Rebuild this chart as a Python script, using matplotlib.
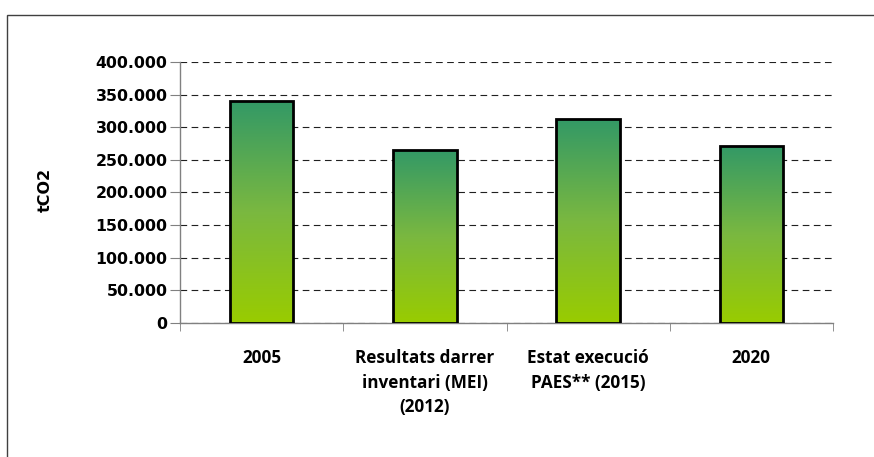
import numpy as np
import matplotlib
matplotlib.use("Agg")
import matplotlib.pyplot as plt
from matplotlib.colors import LinearSegmentedColormap
from matplotlib.patches import Rectangle
from matplotlib.ticker import FuncFormatter

categories = ["2005", "Resultats darrer\ninventari (MEI)\n(2012)",
              "Estat execució\nPAES** (2015)", "2020"]
values = [340000, 265000, 312000, 271000]
yticks = [0, 50000, 100000, 150000, 200000, 250000, 300000, 350000, 400000]
ylabel = "tCO2"

plt.rcParams['font.family'] = ['DejaVu Sans']
plt.rcParams['font.weight'] = 'bold'

fig = plt.figure(figsize=(8.74, 4.57), dpi=100)
# outer frame
fig.patches.append(Rectangle((7/874, -0.1), 1.2, 1 - 15/457 + 0.1,
                             transform=fig.transFigure, fill=False,
                             edgecolor='#404040', linewidth=1.0))
ax = fig.add_axes([180/874, 1 - 323/457, (833-180)/874, (323-62)/457])

x = np.arange(len(categories))
bars = ax.bar(x, values, width=0.39, color='none', edgecolor='black',
              linewidth=2.0, zorder=3)
cmap = LinearSegmentedColormap.from_list('g', ['#99CC00', '#7AB840', '#339966'])
grad = np.linspace(0, 1, 256).reshape(-1, 1)
for b in bars:
    x0, y0 = b.get_x(), b.get_y()
    w, h = b.get_width(), b.get_height()
    im = ax.imshow(grad, cmap=cmap, origin='lower', aspect='auto',
                   extent=[x0, x0 + w, y0, y0 + h], zorder=2)
    im.set_clip_path(b)

ax.set_xlim(-0.5, len(categories) - 0.5)
ax.set_ylim(0, 400000)
ax.set_yticks(yticks)
ax.yaxis.set_major_formatter(FuncFormatter(lambda v, p: f"{int(v):,}".replace(",", ".")))
ax.set_xticks(x)
ax.set_xticklabels(categories, fontsize=12.3, fontweight='bold', linespacing=1.46,
                   va='top', family=['Open Sans', 'DejaVu Sans'])
ax.set_xticks(np.arange(-0.5, len(categories)), minor=True)
ax.tick_params(axis='x', which='major', length=0, pad=19)
ax.tick_params(axis='x', which='minor', length=6, color='#808080', direction='out')
ax.tick_params(axis='y', length=7, color='#808080', labelsize=11.3, pad=2)
for lab in ax.get_yticklabels():
    lab.set_fontweight('bold')

ax.yaxis.grid(True, linestyle=(0, (6, 4)), color='#202020', linewidth=0.8, zorder=1)
ax.set_axisbelow(True)
for s in ['top', 'right']:
    ax.spines[s].set_visible(False)
for s in ['left', 'bottom']:
    ax.spines[s].set_color('#808080')
    ax.spines[s].set_linewidth(1.0)

fig.text(45/874, 1 - 190/457, ylabel, rotation=90, ha='center', va='center',
         fontsize=11.5, fontweight='bold')

fig.savefig("out.png", dpi=100)
